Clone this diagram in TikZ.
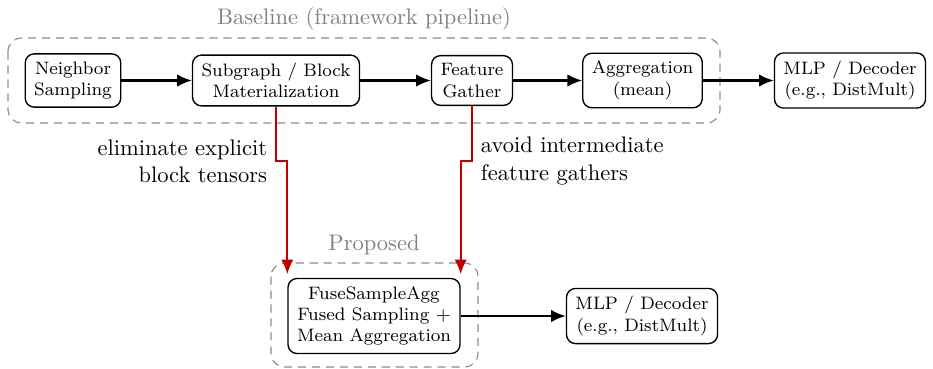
\documentclass[tikz,border=0pt]{standalone}
\usetikzlibrary{arrows.meta,calc}
\definecolor{accred}{RGB}{190,0,0}
\tikzset{
  box/.style={draw, rounded corners=4pt, semithick, align=center, font=\footnotesize, inner xsep=4pt, inner ysep=3.5pt},
  flow/.style={-{Latex[length=6.5pt,width=5.5pt]}, line width=0.9pt},
  redarr/.style={-{Latex[length=6.5pt,width=5.5pt]}, line width=0.9pt, draw=accred, shorten >=1.6pt},
  group/.style={draw=gray!90, dash pattern=on 3.6pt off 2.6pt, rounded corners=6pt, line width=0.5pt},
  grouptitle/.style={text=gray, font=\normalsize, inner sep=0pt},
  lbl/.style={font=\normalsize, inner sep=0pt}
}
\begin{document}
\begin{tikzpicture}[x=0.4444pt,y=-0.4444pt]
\useasboundingbox (0,0) rectangle (933,368);
% groups
\draw[group] (8,38) rectangle (720,123);
\node[grouptitle, anchor=base] (gtitle1) at (364,24) {Baseline (framework pipeline)};
\draw[group] (271,263) rectangle (478,367);
\node[grouptitle, anchor=base] (gtitle2) at (374,250) {Proposed};
% top row
\node[box] (ns) at (73,80.5) {Neighbor\\Sampling};
\node[box] (sb) at (276,80.5) {Subgraph / Block\\Materialization};
\node[box] (fg) at (472,80.5) {Feature\\Gather};
\node[box] (ag) at (642.5,80.5) {Aggregation\\(mean)};
\node[box] (mlpa) at (850,80.5) {MLP / Decoder\\(e.g., DistMult)};
% bottom row
\node[box] (fz) at (374,316) {FuseSampleAgg\\Fused Sampling +\\Mean Aggregation};
\node[box] (mlpb) at (642,316) {MLP / Decoder\\(e.g., DistMult)};
% flow arrows
\draw[flow] (ns) -- (sb);
\draw[flow] (sb) -- (fg);
\draw[flow] (fg) -- (ag);
\draw[flow] (ag) -- (mlpa);
\draw[flow] (fz) -- (mlpb);
% red arrows
\coordinate (jog) at (0,161);
\draw[redarr] (sb.south) -- (sb.south |- jog) -| (fz.north west);
\draw[redarr] (fg.south) -- (fg.south |- jog) -| (fz.north east);
% labels
\node[lbl, anchor=east, align=right] (lblA) at (267.5,161.5) {eliminate explicit\\block tensors};
\node[lbl, anchor=west, align=left] (lblB) at (480.5,161) {avoid intermediate\\feature gathers};
\end{tikzpicture}
\end{document}
